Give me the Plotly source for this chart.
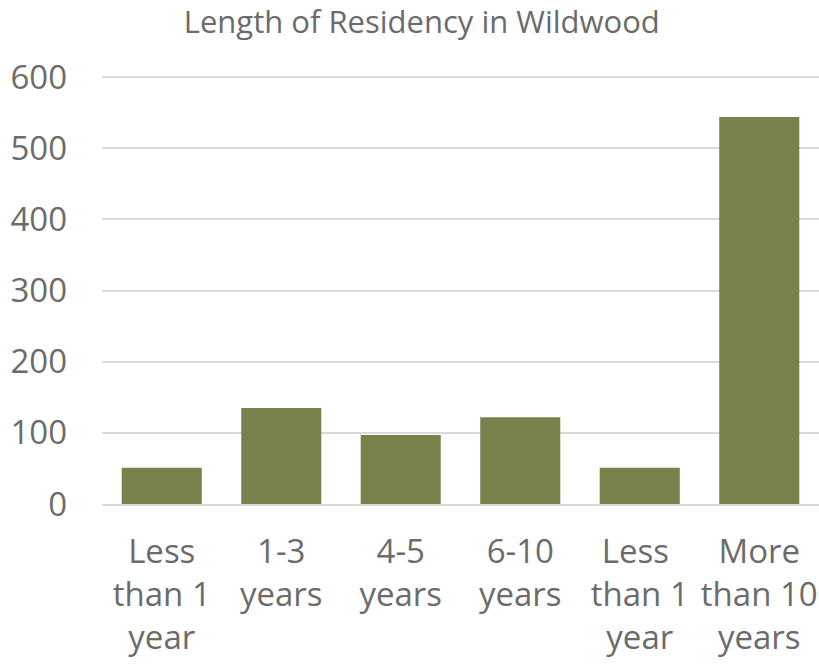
import plotly.graph_objects as go

categories = ["Less<br>than 1<br>year", "1-3<br>years", "4-5<br>years", "6-10<br>years",
              "Less <br>than 1<br>year", "More<br>than 10<br>years"]
values = [51, 135, 97, 122, 51, 544]
y_ticks = [0, 100, 200, 300, 400, 500, 600]

text_color = "#6b6b6b"
font_family = "Open Sans"

fig = go.Figure(go.Bar(x=categories, y=values, marker=dict(color="#78804b", line=dict(width=0))))

fig.update_layout(
    width=819, height=664,
    margin=dict(l=102, r=0, t=76, b=160),
    paper_bgcolor="white", plot_bgcolor="white",
    bargap=0.33,
    showlegend=False,
    title=dict(text="Length of Residency in Wildwood", x=0.515, xanchor="center",
               y=0.966, yanchor="middle",
               font=dict(family=font_family, size=31, color=text_color)),
    font=dict(family=font_family, color=text_color),
)
fig.update_yaxes(range=[0, 601.5], tickvals=y_ticks, showgrid=True, gridcolor="#d9d9d9",
                 gridwidth=1.5, zeroline=False, showline=False, automargin=False,
                 tickfont=dict(size=33, color=text_color), ticks="", ticklabelstandoff=34)
fig.update_xaxes(showline=True, linecolor="#d9d9d9", linewidth=1.5, ticks="", automargin=False,
                 tickfont=dict(size=33, color=text_color), tickangle=0, ticklabelstandoff=18)

fig.write_html("out.html", config={"displayModeBar": False},
               post_script="document.body.style.margin='0';")
